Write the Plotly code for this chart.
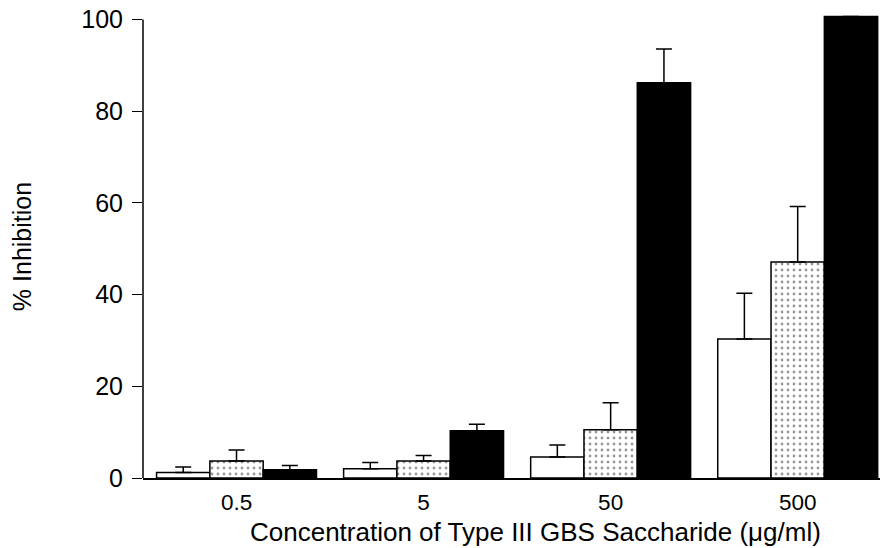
import plotly.graph_objects as go

concentrations = ["0.5", "5", "50", "500"]
group_pos = [0, 1, 2, 3]

white_vals = [1.2, 2.0, 4.6, 30.3]
white_err = [1.2, 1.4, 2.6, 10.0]
dotted_vals = [3.7, 3.7, 10.5, 47.1]
dotted_err = [2.4, 1.2, 5.9, 12.1]
black_vals = [1.8, 10.3, 86.2, 100.7]
black_err = [0.9, 1.4, 7.4, 0.0]

y_ticks = [0, 20, 40, 60, 80, 100]

FONT = "Liberation Sans, Arial, Helvetica, sans-serif"

def err(arr):
    return dict(type="data", array=arr, arrayminus=[0] * len(arr), symmetric=False,
                color="black", thickness=1.5, width=8)

fig = go.Figure()
fig.add_trace(go.Bar(x=group_pos, y=white_vals, error_y=err(white_err),
                     marker=dict(color="white", line=dict(color="black", width=1.5)),
                     name="white"))
fig.add_trace(go.Bar(x=group_pos, y=dotted_vals, error_y=err(dotted_err),
                     marker=dict(color="white", line=dict(color="black", width=1.5),
                                 pattern=dict(shape=".", fgcolor="#333333", bgcolor="white",
                                              size=6, solidity=0.18)),
                     name="dotted"))
fig.add_trace(go.Bar(x=group_pos, y=black_vals, error_y=err(black_err),
                     marker=dict(color="black", line=dict(color="black", width=1.5)),
                     name="black"))

fig.update_layout(
    width=882, height=548,
    margin=dict(l=143, r=2, t=15, b=70),
    paper_bgcolor="white", plot_bgcolor="white",
    barmode="group", bargap=0.145, bargroupgap=0,
    showlegend=False,
    font=dict(family=FONT, color="black"),
)
fig.update_xaxes(
    range=[-0.5, 3.44], tickvals=group_pos, ticktext=concentrations,
    showgrid=False, zeroline=False, showline=True, linecolor="black", linewidth=1.5,
    ticks="", tickfont=dict(size=22.5), ticklabelstandoff=3,
)
fig.update_yaxes(
    range=[0, 101], tickvals=y_ticks, showgrid=False, zeroline=False, showline=False,
    ticks="outside", ticklen=10, tickwidth=1, tickcolor="black",
    tickfont=dict(size=25), ticklabelstandoff=4,
    title=dict(text="% Inhibition", font=dict(size=25), standoff=42),
)
fig.add_shape(type="line", xref="paper", x0=0, x1=0, yref="y", y0=0, y1=100,
              line=dict(color="black", width=1.5))
fig.add_annotation(text="Concentration of Type III GBS Saccharide (μg/ml)",
                   xref="paper", yref="paper", x=0.532, y=-0.1505,
                   xanchor="center", yanchor="bottom", showarrow=False,
                   borderpad=0, font=dict(size=26))

fig.write_html("out.html")
